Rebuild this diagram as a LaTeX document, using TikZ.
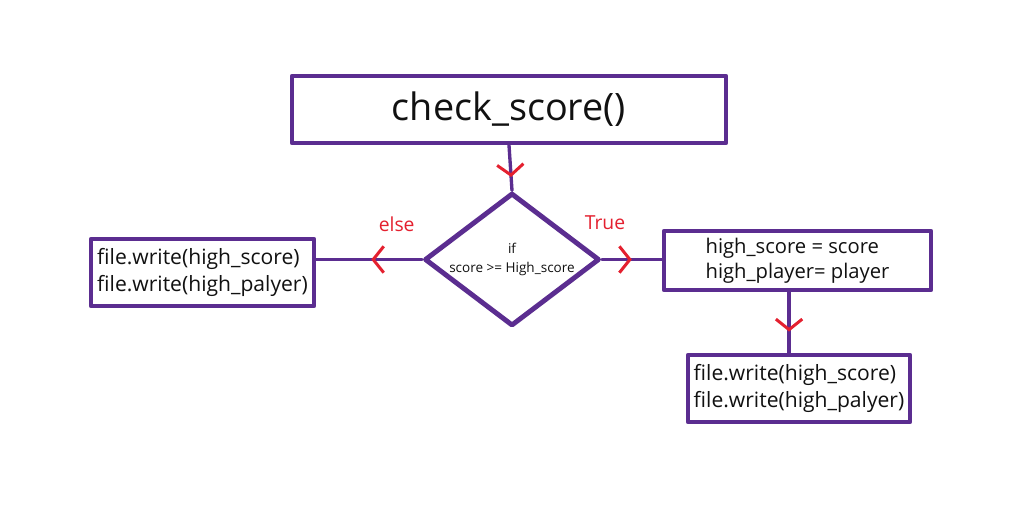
\documentclass[tikz,border=0pt]{standalone}
\usepackage{fontspec}
\setmainfont{Open Sans}
\usepackage{tikz}
\usetikzlibrary{arrows.meta,positioning,shapes.geometric,decorations.markings}
\definecolor{fcpurple}{HTML}{5B2D90}
\definecolor{fcred}{HTML}{E4202F}
\definecolor{fcink}{HTML}{111111}

\tikzset{
  fcbox/.style={draw=fcpurple,line width=2.6pt,fill=white,inner sep=2pt,align=left,
    text=fcink,font=\fontsize{12}{15.5}\selectfont},
  fcdecide/.style={draw=fcpurple,line width=2.8pt,fill=white,shape=diamond,inner sep=0pt,
    aspect=1.316,minimum width=3.5cm,minimum height=2.66cm,align=center,text=fcink,
    font=\fontsize{7.7}{11}\selectfont},
  fcline/.style={draw=fcpurple,line width=1.9pt},
  fcmid/.style={postaction={decorate},decoration={markings,
    mark=at position #1 with {\arrow[fcred,line width=1.7pt]{Straight Barb[length=6pt,width=15pt]}}}},
  fclabel/.style={text=fcred,font=\fontsize{11}{13}\selectfont}
}

\begin{document}
\begin{tikzpicture}[x=0.02cm,y=-0.02cm,line cap=round,line join=round]
      \useasboundingbox[fill=white] (0,0) rectangle (1027,522);
      \node[fcbox,minimum width=8.68cm,minimum height=1.34cm,font=\fontsize{21.5}{25}\selectfont] (check) at (509,109.5) {check\_score()};
      \node[fcdecide] (test) at (512,259.5) {if\\score >= High\_score};
      \node[fcbox,minimum width=4.46cm,minimum height=1.34cm] (save) at (202.5,272.5) {file.write(high\_score)\\file.write(high\_palyer)};
      \node[fcbox,minimum width=5.34cm,minimum height=1.18cm,font=\fontsize{11.5}{14.5}\selectfont] (update) at (797.5,260.5) {high\_score = score\\high\_player= player};
      \node[fcbox,minimum width=4.44cm,minimum height=1.34cm] (store) at (799,388.5) {file.write(high\_score)\\file.write(high\_palyer)};
      % connectors
      \draw[fcline,fcmid=0.7] (check.south) -- (test.north);
      \draw[fcline,fcmid=0.48] (test.west) -- (test.west -| save.east) node[pos=0.24,fclabel,yshift=20pt] (elsetxt) {else};
      \draw[fcline,fcmid=0.5] (test.east) -- (test.east -| update.west) node[pos=0.05,fclabel,yshift=21pt] (truetxt) {True};
      \draw[fcline,fcmid=0.65] ([xshift=-4.8pt]update.south) -- ([xshift=-4.8pt]update.south |- store.north);
    \end{tikzpicture}
\end{document}
